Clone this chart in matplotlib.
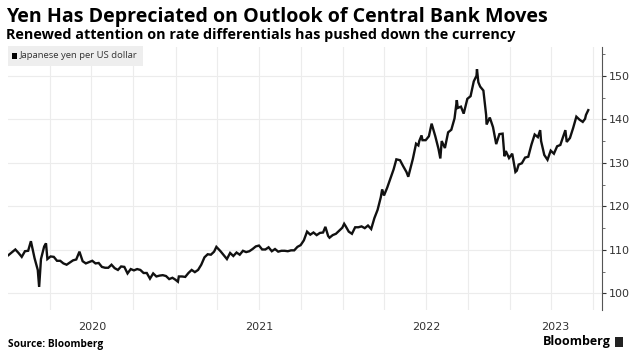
import matplotlib
matplotlib.use("Agg")
import matplotlib.pyplot as plt
from matplotlib.patches import Rectangle
import numpy as np

dates = [
    "2020-01-02","2020-01-10","2020-01-17","2020-01-24","2020-01-31","2020-02-07","2020-02-14","2020-02-20",
    "2020-02-28","2020-03-06","2020-03-09","2020-03-13","2020-03-20","2020-03-24","2020-03-27","2020-04-03",
    "2020-04-10","2020-04-17","2020-04-24","2020-05-01","2020-05-08","2020-05-15","2020-05-22","2020-05-29",
    "2020-06-05","2020-06-12","2020-06-19","2020-06-26","2020-07-03","2020-07-10","2020-07-17","2020-07-24",
    "2020-07-31","2020-08-07","2020-08-14","2020-08-21","2020-08-28","2020-09-04","2020-09-11","2020-09-18",
    "2020-09-25","2020-10-02","2020-10-09","2020-10-16","2020-10-23","2020-10-30","2020-11-06","2020-11-13",
    "2020-11-20","2020-11-27","2020-12-04","2020-12-11","2020-12-18","2020-12-25","2020-12-31",
    "2021-01-06","2021-01-08","2021-01-15","2021-01-22","2021-01-29","2021-02-05","2021-02-12","2021-02-19",
    "2021-02-26","2021-03-05","2021-03-12","2021-03-19","2021-03-26","2021-03-31","2021-04-09","2021-04-16",
    "2021-04-23","2021-04-30","2021-05-07","2021-05-14","2021-05-21","2021-05-28","2021-06-04","2021-06-11",
    "2021-06-18","2021-06-25","2021-07-02","2021-07-09","2021-07-16","2021-07-23","2021-07-30","2021-08-06",
    "2021-08-13","2021-08-20","2021-08-27","2021-09-03","2021-09-10","2021-09-17","2021-09-24","2021-10-01",
    "2021-10-08","2021-10-15","2021-10-22","2021-10-29","2021-11-05","2021-11-12","2021-11-19","2021-11-24",
    "2021-11-30","2021-12-03","2021-12-10","2021-12-17","2021-12-24","2021-12-31",
    "2022-01-04","2022-01-07","2022-01-14","2022-01-21","2022-01-28","2022-02-04","2022-02-11","2022-02-18",
    "2022-02-25","2022-03-04","2022-03-11","2022-03-18","2022-03-25","2022-03-28","2022-04-01","2022-04-08",
    "2022-04-15","2022-04-22","2022-04-28","2022-05-06","2022-05-13","2022-05-20","2022-05-24","2022-06-03",
    "2022-06-10","2022-06-15","2022-06-17","2022-06-22","2022-06-24","2022-07-01","2022-07-08","2022-07-14",
    "2022-07-22","2022-07-29","2022-08-02","2022-08-05","2022-08-12","2022-08-19","2022-08-26","2022-09-02",
    "2022-09-07","2022-09-09","2022-09-16","2022-09-22","2022-09-30","2022-10-07","2022-10-14","2022-10-20",
    "2022-10-21","2022-10-24","2022-10-28","2022-11-04","2022-11-10","2022-11-11","2022-11-18","2022-11-25",
    "2022-12-02","2022-12-09","2022-12-16","2022-12-20","2022-12-23","2022-12-30",
    "2023-01-06","2023-01-13","2023-01-16","2023-01-20","2023-01-27","2023-02-03","2023-02-10","2023-02-17",
    "2023-02-24","2023-03-03","2023-03-08","2023-03-10","2023-03-17","2023-03-24","2023-03-31","2023-04-07",
    "2023-04-14","2023-04-21","2023-04-28","2023-05-02","2023-05-05","2023-05-12","2023-05-19","2023-05-26",
    "2023-06-02","2023-06-09","2023-06-14","2023-06-16","2023-06-21",
]
usd_jpy = [
    108.8,109.5,110.1,109.3,108.4,109.7,109.8,112.0,
    108.1,105.4,101.5,107.9,110.8,111.5,107.9,108.5,
    108.4,107.5,107.5,106.9,106.6,107.1,107.6,107.8,
    109.6,107.4,106.9,107.2,107.5,106.9,107.0,106.1,
    105.9,105.9,106.6,105.8,105.4,106.2,106.1,104.6,
    105.6,105.3,105.6,105.4,104.7,104.7,103.4,104.6,
    103.9,104.1,104.2,104.0,103.3,103.6,103.2,
    102.7,103.9,103.9,103.8,104.7,105.4,104.9,105.4,
    106.6,108.3,109.0,108.9,109.6,110.7,109.7,108.8,
    107.9,109.3,108.6,109.4,108.9,109.8,109.5,109.7,
    110.2,110.8,111.0,110.1,110.1,110.6,109.7,110.2,
    109.6,109.8,109.8,109.7,109.9,109.9,110.7,111.1,
    112.2,114.2,113.5,114.0,113.4,113.9,114.0,115.3,
    113.2,112.8,113.4,113.7,114.4,115.1,
    116.0,115.5,114.2,113.7,115.2,115.2,115.4,115.0,
    115.6,114.8,117.3,119.2,122.1,123.9,122.5,124.3,
    126.4,128.5,130.8,130.6,129.2,127.9,126.8,130.9,
    134.4,134.0,135.0,136.3,135.2,135.2,136.1,139.0,
    136.1,133.2,131.0,135.0,133.4,137.0,137.6,140.2,
    144.4,142.6,142.9,141.3,144.7,145.3,148.7,150.0,
    151.5,148.5,147.5,146.6,141.0,138.8,140.4,138.2,
    134.3,136.6,136.7,131.5,132.7,131.1,
    132.1,127.9,128.2,129.6,129.9,131.2,131.4,134.2,
    136.5,135.9,137.5,135.0,131.8,130.7,132.8,132.1,
    133.8,134.1,136.3,137.5,134.8,135.7,138.0,140.6,
    139.9,139.4,140.1,141.0,142.1,
]
y_ticks = [100, 110, 120, 130, 140, 150]
year_labels = ["2020", "2021", "2022", "2023"]

W, H = 640, 359
fig = plt.figure(figsize=(W/100, H/100), dpi=100)
fig.patch.set_facecolor("white")

def fx(px): return px / W
def fy(py): return 1 - py / H

ax = fig.add_axes([fx(8), fy(310), fx(602) - fx(8), fy(47) - fy(310)])
x = np.array(dates, dtype="datetime64[D]")
ax.plot(x, usd_jpy, color="#111111", lw=1.7, solid_joinstyle="miter")

x0 = np.datetime64("2020-01-01")
x1 = np.datetime64("2023-07-21")
ax.set_xlim(x0, x1)
ax.set_ylim(96.2, 156.6)

ax.set_yticks(y_ticks)
ax.set_yticks([105, 115, 125, 135, 145, 155], minor=True)
ax.yaxis.tick_right()
ax.tick_params(axis="y", which="major", direction="out", length=3, width=0.8,
               colors="#333333", labelsize=8, pad=2)
ax.tick_params(axis="y", which="minor", direction="out", length=2, width=0.6, colors="#555555")
quarters = np.array(["2020-04-01","2020-07-01","2020-10-01","2021-01-01","2021-04-01","2021-07-01",
                     "2021-10-01","2022-01-01","2022-04-01","2022-07-01","2022-10-01","2023-01-01",
                     "2023-04-01","2023-07-01"], dtype="datetime64[D]")
ax.set_xticks(quarters)
ax.set_xticklabels([])
ax.tick_params(axis="x", length=0)
ax.grid(True, which="major", color="#ececec", lw=0.8)
ax.set_axisbelow(True)
for s in ["top", "left", "bottom"]:
    ax.spines[s].set_visible(False)
ax.spines["right"].set_color("#555555")
ax.spines["right"].set_linewidth(0.8)

for yl in year_labels:
    a = max(np.datetime64(f"{yl}-01-01"), x0)
    b = min(np.datetime64(f"{int(yl)+1}-01-01"), x1)
    mid = a + (b - a) / 2
    ax.text(mid, -0.065, yl, transform=ax.get_xaxis_transform(), ha="center", va="center",
            fontsize=8, color="#333333")

fam = ["Open Sans", "DejaVu Sans"]
fig.text(fx(6), fy(17), "Yen Has Depreciated on Outlook of Central Bank Moves",
         fontsize=14.1, fontweight="bold", family=fam, va="center", ha="left", color="#000000")
fig.text(fx(6), fy(35), "Renewed attention on rate differentials has pushed down the currency",
         fontsize=10.4, fontweight="bold", family=fam, va="center", ha="left", color="#000000")

fig.patches.append(Rectangle((fx(8), fy(66)), fx(143) - fx(8), fy(46) - fy(66),
                             transform=fig.transFigure, facecolor="#eeeeee", edgecolor="none", zorder=5))
fig.patches.append(Rectangle((fx(12), fy(59)), fx(5), fy(53) - fy(59),
                             transform=fig.transFigure, facecolor="#000000", edgecolor="none", zorder=6))
fig.text(fx(20), fy(56), "Japanese yen per US dollar", fontsize=6.8, family=fam,
         va="center", ha="left", color="#333333", zorder=7)

fig.text(fx(8), fy(344), "Source: Bloomberg", fontsize=7.3, fontweight="bold", family=fam,
         va="center", ha="left", color="#000000")
fig.text(fx(611), fy(342), "Bloomberg", fontsize=9, fontweight="bold", family=fam,
         va="center", ha="right", color="#000000")
fig.patches.append(Rectangle((fx(615), fy(347)), fx(8), fy(337) - fy(347),
                             transform=fig.transFigure, facecolor="#222222", edgecolor="none"))

fig.savefig("out.png", dpi=100, facecolor="white")
